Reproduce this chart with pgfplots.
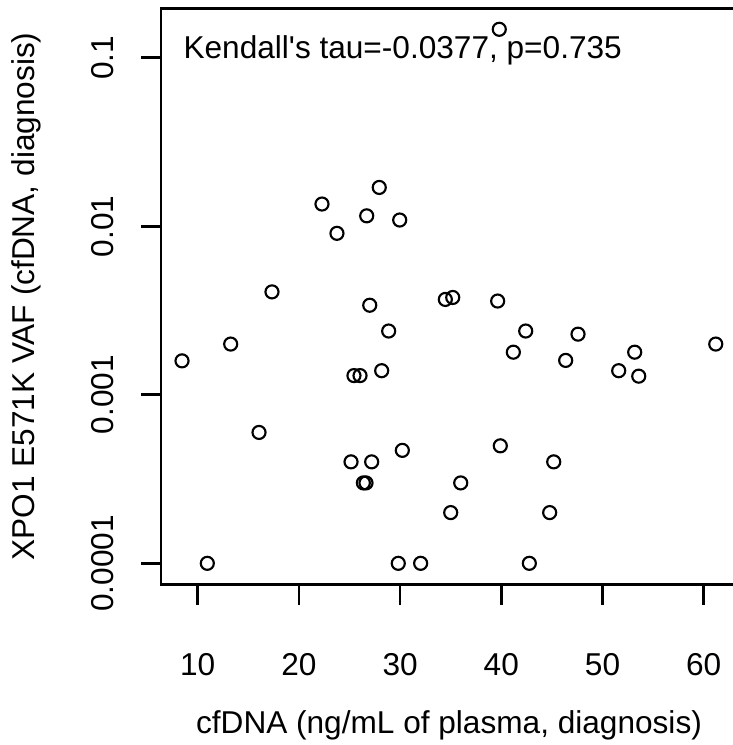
\documentclass[border=0pt]{standalone}
\usepackage{pgfplots}
\pgfplotsset{compat=1.18}
\usepackage{fontspec}
\setmainfont{Liberation Sans}
\begin{document}
\begin{tikzpicture}
\useasboundingbox (0,0) rectangle (549pt,558.75pt);
\begin{axis}[
  at={(120.75pt,120.2pt)}, anchor=south west,
  scale only axis, width=432pt, height=432.3pt,
  xmin=6.374, xmax=63.29,
  ymode=log, ymin=7.464e-5, ymax=0.1964,
  font=\fontsize{23.7}{28}\selectfont,
  axis line style={line width=1.95pt, black},
  xtick={10,20,30,40,50,60},
  xticklabels={10,20,30,40,50,60},
  ytick={0.0001,0.001,0.01,0.1},
  yticklabels={0.0001,0.001,0.01,0.1},
  minor tick num=0, yminorticks=false,
  xtick pos=bottom, ytick pos=left,
  tick align=outside, major tick length=15pt,
  tick style={line width=1.95pt, black},
  xticklabel style={anchor=base, yshift=-53pt, inner sep=0pt},
  yticklabel style={xshift=-20.25pt, rotate=90, anchor=base, inner sep=0pt},
  xlabel={cfDNA (ng/mL of plasma, diagnosis)},
  ylabel={XPO1 E571K VAF (cfDNA, diagnosis)},
  xlabel style={at={(axis description cs:0.5,-0.2585)}, anchor=base, inner sep=0pt},
  ylabel style={at={(axis description cs:-0.21875,0.5)}, rotate=0, anchor=base, inner sep=0pt},
  clip=false,
]
\addplot[only marks, mark=o, mark size=4.9pt, mark options={line width=1.6pt, black}] coordinates {
(39.8,0.1475) (27.94,0.0170) (22.28,0.01355) (26.70,0.01153) (29.96,0.01089)
(23.76,0.00908) (17.34,0.00408) (34.47,0.00368) (35.2,0.00378) (39.64,0.0036)
(27.0,0.0034) (28.87,0.00239) (42.41,0.00239) (47.58,0.00229) (13.26,0.0020)
(61.19,0.0020) (41.19,0.00179) (53.18,0.00179) (8.45,0.00159) (46.36,0.0016)
(28.18,0.00139) (51.60,0.00139) (25.44,0.0013) (26.04,0.0013) (53.58,0.00129)
(16.06,0.000598) (39.90,0.000498) (30.22,0.000468) (25.15,0.0004) (27.19,0.0004)
(45.18,0.0004) (26.37,0.0003) (26.63,0.0003) (35.99,0.0003) (35.0,0.0002)
(44.78,0.0002) (10.95,0.0001) (29.82,0.0001) (32.03,0.0001) (42.77,0.0001)
};
\node[anchor=base west, inner sep=0pt] at (axis cs:8.58,0.0992) {Kendall\textquotesingle s tau=-0.0377, p=0.735};
\end{axis}
\end{tikzpicture}
\end{document}
